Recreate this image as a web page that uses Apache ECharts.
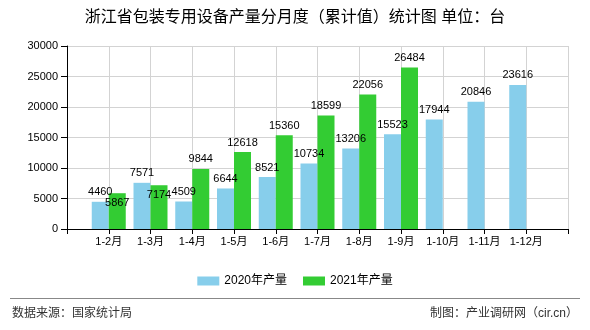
<!DOCTYPE html>
<html>
<head>
<meta charset="utf-8">
<script src="https://cdn.jsdelivr.net/npm/echarts@6/dist/echarts.min.js"></script>
<style>html,body{margin:0;padding:0;background:#fff;}#c{width:590px;height:330px;}</style>
</head>
<body>
<div id="c"></div>
<script>
var titleText = '浙江省包装专用设备产量分月度（累计值）统计图 单位：台';
var categories = ['1-2月','1-3月','1-4月','1-5月','1-6月','1-7月','1-8月','1-9月','1-10月','1-11月','1-12月'];
var series2020Name = '2020年产量';
var series2021Name = '2021年产量';
var values2020 = [4460, 7571, 4509, 6644, 8521, 10734, 13206, 15523, 17944, 20846, 23616];
var values2021 = [5867, 7174, 9844, 12618, 15360, 18599, 22056, 26484, null, null, null];
var yTicks = [0, 5000, 10000, 15000, 20000, 25000, 30000];
var sourceText = '数据来源：国家统计局';
var makerText = '制图：产业调研网（cir.cn）';

var FONT = "'Liberation Sans', 'Noto Sans CJK SC', sans-serif";
// pad one empty slot on each side so that categories sit on ticks
var axisData = [''].concat(categories).concat(['']);
var d2020 = [null].concat(values2020).concat([null]);
var d2021 = [null].concat(values2021).concat([null]);

var chart = echarts.init(document.getElementById('c'), null, {renderer: 'canvas'});

function greenLabelLayout(p) {
  var i = p.dataIndex;
  var b = d2020[i], g = d2021[i];
  if (b == null || g == null) return {};
  var pb = chart.convertToPixel({yAxisIndex: 0}, b);
  var pg = chart.convertToPixel({yAxisIndex: 0}, g);
  if (Math.abs(pb - pg) < 13) {
    // overlap with neighbouring label: put label inside the top of the bar
    return {dy: 19};
  }
  return {};
}

chart.setOption({
  animation: false,
  backgroundColor: '#fff',
  title: {
    text: titleText,
    left: 'center',
    top: 5,
    textStyle: {fontSize: 16, fontWeight: 'normal', color: '#000', fontFamily: FONT}
  },
  legend: {
    top: 270,
    left: 'center',
    itemWidth: 22,
    itemHeight: 9,
    itemGap: 16,
    icon: 'rect',
    textStyle: {fontSize: 12, color: '#000', fontFamily: FONT},
    data: [series2020Name, series2021Name]
  },
  grid: {left: 67, right: 22, top: 46, bottom: 101, containLabel: false},
  xAxis: {
    type: 'category',
    data: axisData,
    boundaryGap: false,
    axisLine: {lineStyle: {color: '#000', width: 1}},
    axisTick: {show: true, length: 5, lineStyle: {color: '#000'}},
    axisLabel: {color: '#000', fontSize: 11, fontFamily: FONT, margin: 7, interval: 0},
    splitLine: {show: true, lineStyle: {color: '#d3d3d3', width: 1}}
  },
  yAxis: {
    type: 'value',
    min: yTicks[0],
    max: yTicks[yTicks.length - 1],
    interval: yTicks[1] - yTicks[0],
    axisLine: {show: true, lineStyle: {color: '#000', width: 1}},
    axisTick: {show: true, length: 6, lineStyle: {color: '#000'}},
    axisLabel: {color: '#000', fontSize: 11, fontFamily: FONT, margin: 9, formatter: function (v) { return String(v); }},
    splitLine: {show: true, lineStyle: {color: '#d3d3d3', width: 1}}
  },
  series: [
    {
      name: series2020Name,
      type: 'bar',
      data: d2020,
      barWidth: 17,
      barGap: '0%',
      itemStyle: {color: '#87ceeb'},
      label: {show: true, position: 'top', distance: 4, color: '#000', fontSize: 11, fontFamily: FONT}
    },
    {
      name: series2021Name,
      type: 'bar',
      data: d2021,
      barWidth: 17,
      barGap: '0%',
      itemStyle: {color: '#33cc33'},
      label: {show: true, position: 'top', distance: 4, color: '#000', fontSize: 11, fontFamily: FONT},
      labelLayout: greenLabelLayout
    }
  ],
  graphic: [
    {type: 'line', shape: {x1: 10, y1: 298.5, x2: 580, y2: 298.5}, style: {stroke: '#888', lineWidth: 1}},
    {type: 'text', left: 12, top: 308, style: {text: sourceText, fill: '#333', fontSize: 12, fontFamily: FONT}},
    {type: 'text', right: 12, top: 308, style: {text: makerText, fill: '#333', fontSize: 12, fontFamily: FONT}}
  ]
});
</script>
</body>
</html>
